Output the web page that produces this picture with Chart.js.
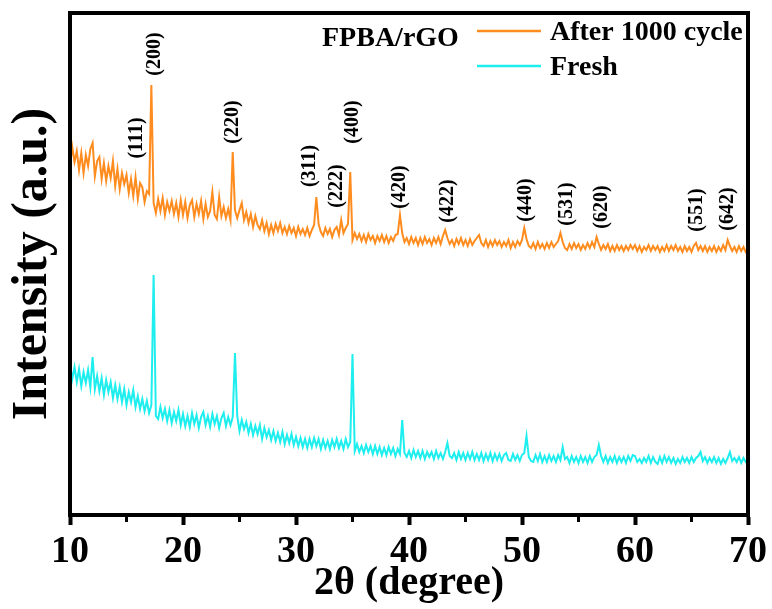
<!DOCTYPE html>
<html>
<head>
<meta charset="utf-8">
<script src="https://cdn.jsdelivr.net/npm/chart.js@4.4.0/dist/chart.umd.min.js"></script>
<style>
  html, body { margin: 0; padding: 0; background: #fff; }
  #xrd { display: block; }
</style>
</head>
<body>
<canvas id="xrd" width="772" height="609"></canvas>
<script>
// XRD scan, 2θ from 10° to 70°, one reading every 0.2°
const scanStart = 10;
const scanStep = 0.2;

// intensity (a.u.), after 1000 cycles (orange trace)
const after1000 = [
  350, 368, 353, 364, 345,   // 10
  362, 342, 360, 349, 366,   // 11
  372, 339, 354, 358, 336,   // 12
  352, 334, 349, 337, 354,   // 13
  329, 346, 326, 342, 331,   // 14
  340, 322, 336, 319, 338,   // 15
  316, 332, 328, 313, 324,   // 16
  321, 430, 312, 302, 316,   // 17
  304, 317, 300, 313, 304,   // 18
  314, 301, 312, 298, 315,   // 19
  300, 313, 297, 310, 315,   // 20
  298, 311, 301, 314, 296,   // 21
  311, 298, 304, 323, 300,   // 22
  296, 318, 299, 308, 297,   // 23
  306, 295, 363, 305, 297,   // 24
  305, 312, 295, 303, 292,   // 25
  301, 288, 299, 290, 286,   // 26
  295, 284, 292, 281, 290,   // 27
  282, 291, 284, 292, 282,   // 28
  288, 281, 289, 282, 287,   // 29
  279, 288, 281, 286, 280,   // 30
  287, 279, 285, 290, 318,   // 31
  291, 283, 279, 287, 281,   // 32
  286, 278, 285, 288, 280,   // 33
  295, 282, 287, 291, 343,   // 34
  275, 282, 276, 281, 274,   // 35
  280, 273, 281, 275, 279,   // 36
  272, 279, 274, 280, 273,   // 37
  279, 272, 278, 274, 280,   // 38
  281, 300, 282, 273, 277,   // 39
  271, 278, 272, 277, 270,   // 40
  277, 271, 278, 272, 276,   // 41
  270, 277, 272, 278, 271,   // 42
  279, 285, 277, 271, 275,   // 43
  269, 276, 271, 277, 270,   // 44
  275, 269, 276, 270, 274,   // 45
  277, 280, 272, 269, 275,   // 46
  268, 274, 269, 275, 270,   // 47
  274, 268, 273, 269, 275,   // 48
  267, 273, 268, 274, 270,   // 49
  275, 287, 276, 269, 267,   // 50
  272, 266, 273, 267, 271,   // 51
  266, 272, 267, 273, 268,   // 52
  271, 274, 282, 273, 267,   // 53
  265, 271, 266, 272, 267,   // 54
  271, 265, 270, 266, 272,   // 55
  267, 273, 268, 278, 271,   // 56
  265, 270, 266, 271, 264,   // 57
  269, 264, 270, 265, 269,   // 58
  264, 269, 265, 270, 266,   // 59
  270, 264, 269, 263, 268,   // 60
  265, 270, 264, 269, 265,   // 61
  269, 263, 268, 264, 270,   // 62
  264, 269, 265, 270, 264,   // 63
  268, 263, 269, 264, 268,   // 64
  263, 269, 272, 265, 269,   // 65
  264, 269, 263, 268, 264,   // 66
  269, 263, 268, 264, 270,   // 67
  265, 275, 269, 264, 268,   // 68
  263, 269, 264, 268, 263,   // 69
  266                        // 70
];

// intensity (a.u.), fresh electrode (cyan trace)
const fresh = [
  150, 136, 148, 133, 146,   // 10
  129, 143, 132, 145, 128,   // 11
  158, 126, 139, 124, 137,   // 12
  120, 135, 123, 133, 117,   // 13
  130, 116, 128, 113, 126,   // 14
  110, 123, 113, 125, 108,   // 15
  119, 106, 116, 104, 114,   // 16
  102, 110, 240, 99, 96,     // 17
  108, 97, 106, 94, 105,     // 18
  92, 103, 94, 105, 90,      // 19
  101, 89, 99, 88, 102,      // 20
  91, 100, 87, 98, 103,      // 21
  90, 99, 88, 101, 91,       // 22
  99, 87, 97, 102, 89,       // 23
  98, 90, 98, 162, 99,       // 24
  84, 95, 86, 93, 82,        // 25
  91, 80, 89, 81, 90,        // 26
  76, 87, 78, 85, 75,        // 27
  84, 74, 82, 73, 83,        // 28
  71, 80, 72, 81, 70,        // 29
  78, 69, 77, 68, 76,        // 30
  67, 76, 68, 77, 69,        // 31
  76, 66, 75, 67, 74,        // 32
  66, 75, 68, 76, 67,        // 33
  74, 66, 76, 68, 73,        // 34
  161, 64, 71, 63, 69,       // 35
  62, 70, 63, 69, 61,        // 36
  69, 61, 68, 60, 67,        // 37
  60, 68, 61, 67, 59,        // 38
  66, 61, 95, 62, 58,        // 39
  64, 57, 65, 58, 64,        // 40
  57, 64, 56, 63, 58,        // 41
  63, 56, 64, 57, 62,        // 42
  56, 63, 72, 59, 57,        // 43
  62, 55, 63, 56, 62,        // 44
  55, 62, 56, 63, 55,        // 45
  61, 55, 62, 54, 61,        // 46
  55, 62, 54, 61, 55,        // 47
  61, 54, 60, 62, 55,        // 48
  54, 61, 55, 60, 54,        // 49
  60, 62, 79, 58, 54,        // 50
  53, 60, 54, 61, 53,        // 51
  59, 53, 60, 54, 59,        // 52
  53, 60, 55, 68, 56,        // 53
  58, 52, 59, 53, 58,        // 54
  52, 59, 53, 58, 52,        // 55
  59, 53, 58, 60, 70,        // 56
  59, 53, 59, 52, 58,        // 57
  53, 59, 52, 58, 53,        // 58
  58, 52, 59, 54, 60,        // 59
  59, 53, 56, 52, 57,        // 60
  53, 59, 52, 58, 53,        // 61
  51, 58, 52, 59, 53,        // 62
  58, 52, 57, 51, 56,        // 63
  52, 58, 53, 57, 52,        // 64
  58, 53, 57, 59, 63,        // 65
  54, 58, 52, 57, 53,        // 66
  58, 52, 57, 51, 56,        // 67
  52, 57, 63, 54, 57,        // 68
  53, 58, 52, 57, 53,        // 69
  55                         // 70
];

// Miller indices written above the after-cycling peaks
const hklLabels = ["(111)", "(200)", "(220)", "(311)", "(222)", "(400)", "(420)", "(422)", "(440)", "(531)", "(620)", "(551)", "(642)"];
const hklAngles = [15.9, 17.5, 24.4, 31.2, 33.6, 35.0, 39.2, 43.4, 50.3, 54.0, 57.1, 65.5, 68.2];
const hklHeights = [377, 461, 393, 349, 329, 393, 328, 314, 315, 311, 308, 305, 306];

const twoTheta = after1000.map((_, i) => +(scanStart + i * scanStep).toFixed(1));

const serif = '"Liberation Serif", "Times New Roman", serif';
Chart.defaults.font.family = serif;
Chart.defaults.color = "#000";

// frame, hkl labels and the legend block
const decorations = {
  id: "decorations",
  afterDraw(chart) {
    const ctx = chart.ctx;
    const area = chart.chartArea;
    const xs = chart.scales.x;
    const ys = chart.scales.y;

    ctx.save();
    ctx.strokeStyle = "#000";
    ctx.lineWidth = 4;
    ctx.strokeRect(area.left, area.top, area.right - area.left, area.bottom - area.top);

    ctx.fillStyle = "#000";
    ctx.font = "bold 20px " + serif;
    ctx.textAlign = "center";
    ctx.textBaseline = "middle";
    hklLabels.forEach((txt, i) => {
      ctx.save();
      ctx.translate(xs.getPixelForValue(hklAngles[i]), ys.getPixelForValue(hklHeights[i]));
      ctx.rotate(-Math.PI / 2);
      ctx.fillText(txt, 0, 0);
      ctx.restore();
    });

    ctx.font = "bold 28px " + serif;
    ctx.textAlign = "left";
    ctx.fillText("FPBA/rGO", area.left + 252, area.top + 26);
    chart.data.datasets.forEach((ds, i) => {
      const y = area.top + 18 + i * 35;
      ctx.strokeStyle = ds.borderColor;
      ctx.lineWidth = 2.5;
      ctx.beginPath();
      ctx.moveTo(area.left + 407, y);
      ctx.lineTo(area.left + 471, y);
      ctx.stroke();
      ctx.fillText(ds.label, area.left + 480, y + 2);
    });
    ctx.restore();
  }
};

new Chart(document.getElementById("xrd"), {
  type: "line",
  data: {
    datasets: [
      {
        label: "After 1000 cycle",
        data: twoTheta.map((x, i) => ({ x: x, y: after1000[i] })),
        borderColor: "#FF8C1F",
        borderWidth: 2,
        pointRadius: 0,
        tension: 0
      },
      {
        label: "Fresh",
        data: twoTheta.map((x, i) => ({ x: x, y: fresh[i] })),
        borderColor: "#1EEEEE",
        borderWidth: 2,
        pointRadius: 0,
        tension: 0
      }
    ]
  },
  options: {
    responsive: false,
    animation: false,
    devicePixelRatio: 1,
    layout: { padding: { left: 0, right: 24, top: 13, bottom: 0 } },
    plugins: {
      legend: { display: false },
      tooltip: { enabled: false }
    },
    scales: {
      x: {
        type: "linear",
        min: 10,
        max: 70,
        afterFit: (s) => { s.height = 94; },
        ticks: {
          stepSize: 5,
          autoSkip: false,
          maxRotation: 0,
          padding: 4,
          font: { size: 38, weight: "bold" },
          callback: (v) => (v % 10 === 0 ? v : "")
        },
        grid: {
          drawOnChartArea: false,
          drawTicks: true,
          tickLength: 10,
          tickColor: "#000",
          tickWidth: (c) => (c.tick && c.tick.value % 10 === 0 ? 4 : 3),
          tickBorderDash: (c) => (c.tick && c.tick.value % 10 !== 0 ? [5, 40] : [])
        },
        border: { display: true, color: "#000", width: 4 },
        title: {
          display: true,
          text: "2θ (degree)",
          font: { size: 40, weight: "bold" },
          padding: { top: 0, bottom: 1 }
        }
      },
      y: {
        min: 0,
        max: 502,
        afterFit: (s) => { s.width = 70; },
        ticks: { display: false },
        grid: { display: false },
        border: { display: true, color: "#000", width: 4 },
        title: {
          display: true,
          text: "Intensity (a.u.)",
          font: { size: 50, weight: "bold" },
          padding: { top: 3, bottom: 0 }
        }
      }
    }
  },
  plugins: [decorations]
});
</script>
</body>
</html>
